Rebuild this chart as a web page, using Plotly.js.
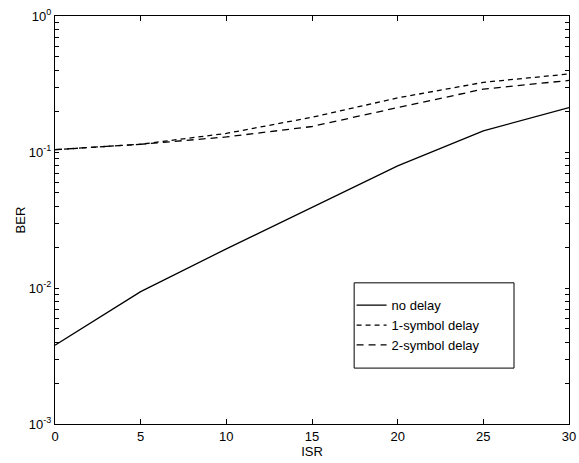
<!DOCTYPE html>
<html>
<head>
<meta charset="utf-8">
<script src="https://cdn.plot.ly/plotly-3.0.1.min.js"></script>
<style>html,body{margin:0;padding:0;background:#fff;}#chart{width:579px;height:463px;}</style>
</head>
<body>
<div id="chart"></div>
<script>
const isr = [0, 5, 10, 15, 20, 25, 30];
const noDelay = [0.0038, 0.0094, 0.0194, 0.039, 0.079, 0.143, 0.212];
const oneSymbolDelay = [0.104, 0.114, 0.137, 0.18, 0.25, 0.325, 0.375];
const twoSymbolDelay = [0.104, 0.114, 0.129, 0.154, 0.212, 0.29, 0.336];
const seriesNames = ['no delay', '1-symbol delay', '2-symbol delay'];
const xTicks = [0, 5, 10, 15, 20, 25, 30];
const yDecades = [0.001, 0.01, 0.1, 1];
const yDecadeText = ['10<sup>-3</sup>', '10<sup>-2</sup>', '10<sup>-1</sup>', '10<sup>0</sup>'];
const yTickVals = [];
const yTickText = [];
yDecades.forEach((d, i) => {
  yTickVals.push(d); yTickText.push(yDecadeText[i]);
  if (i < yDecades.length - 1) for (let m = 2; m <= 9; m++) { yTickVals.push(m * d); yTickText.push(''); }
});

const traces = [
  {x: isr, y: noDelay, name: seriesNames[0], mode: 'lines', line: {color: '#000', width: 1.3}},
  {x: isr, y: oneSymbolDelay, name: seriesNames[1], mode: 'lines', line: {color: '#000', width: 1.3, dash: '5px,4px'}},
  {x: isr, y: twoSymbolDelay, name: seriesNames[2], mode: 'lines', line: {color: '#000', width: 1.3, dash: '7px,5px'}}
];

const font = {family: 'Liberation Sans, Arial, sans-serif', size: 13, color: '#000'};
const layout = {
  width: 579, height: 463,
  margin: {l: 55, r: 10, t: 16, b: 39},
  paper_bgcolor: '#fff', plot_bgcolor: '#fff',
  font: font,
  showlegend: true,
  legend: {x: 0.577, y: 0.328, xanchor: 'left', yanchor: 'top', borderwidth: 0,
           bgcolor: 'rgba(0,0,0,0)', font: {family: font.family, size: 13, color: '#000'}, tracegroupgap: 0, itemwidth: 30},
  shapes: [{type: 'rect', xref: 'paper', yref: 'paper', x0: 0.582, x1: 0.893, y0: 0.137, y1: 0.346,
            line: {color: '#000', width: 1}, fillcolor: 'rgba(255,255,255,0)', layer: 'above'}],
  xaxis: {
    range: [0, 30], tickvals: xTicks, ticks: 'inside', ticklen: 5, tickcolor: '#000',
    showline: true, linecolor: '#000', linewidth: 1, mirror: 'ticks', showgrid: false, zeroline: false,
    title: {text: 'ISR', font: font, standoff: 2}
  },
  yaxis: {
    type: 'log', range: [-3, 0], tickmode: 'array', tickvals: yTickVals, ticktext: yTickText,
    ticks: 'inside', ticklen: 4, tickcolor: '#000',
    showline: true, linecolor: '#000', linewidth: 1, mirror: 'ticks', showgrid: false, zeroline: false,
    title: {text: 'BER', font: font, standoff: 0}
  }
};
Plotly.newPlot('chart', traces, layout, {displayModeBar: false, staticPlot: true});
</script>
</body>
</html>
